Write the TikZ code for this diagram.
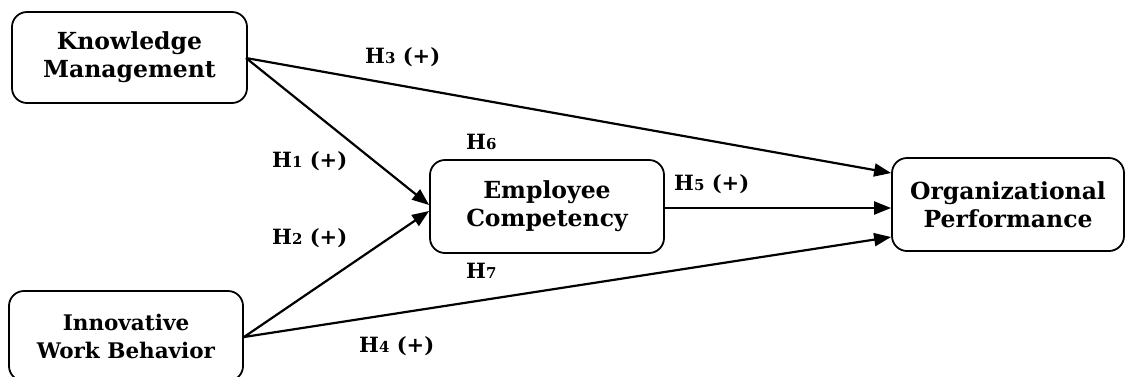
\documentclass[tikz,border=0pt]{standalone}
\usepackage{fontspec}
\setmainfont{DejaVu Serif}
\usetikzlibrary{arrows.meta}
\newcommand\hs[1]{{\fontsize{15}{15}\selectfont #1}}
\begin{document}
\begin{tikzpicture}[x=1pt,y=-1pt,
  box/.style={draw,line width=1.8pt,rounded corners=15pt,align=center,
    font=\fontsize{23.5}{28}\selectfont\bfseries,inner sep=0pt},
  arr/.style={line width=2.2pt,-{Triangle[length=17pt,width=13pt]}},
  lab/.style={font=\fontsize{21}{24}\selectfont\bfseries,inner sep=0pt}]
\useasboundingbox (0,0) rectangle (1126,376);
\node[box,minimum width=235pt,minimum height=91pt] (km) at (129.5,57.5) {Knowledge\\Management};
\node[box,minimum width=234pt,minimum height=90pt,font=\fontsize{21.5}{28}\selectfont\bfseries] (iwb) at (126,336) {Innovative\\Work Behavior};
\node[box,minimum width=234pt,minimum height=93pt] (ec) at (547,206.5) {Employee\\Competency};
\node[box,minimum width=232pt,minimum height=93pt] (op) at (1008,204.5) {Organizational\\Performance};
\coordinate (kmr) at (246,58);
\coordinate (iwbr) at (244,337);
\draw[arr] (kmr) -- (op.west |- 0,173);
\draw[arr] (kmr) -- (ec.west |- 0,205);
\draw[arr] (iwbr) -- (ec.west |- 0,211);
\draw[arr] (iwbr) -- (op.west |- 0,237);
\draw[arr] (ec.east |- 0,208) -- (op.west |- 0,208);
\node[lab,anchor=west] (h3) at (365,57) {H\hs{3} (+)};
\node[lab,anchor=west] (h1) at (272,161) {H\hs{1} (+)};
\node[lab,anchor=west] (h6) at (466,142) {H\hs{6}};
\node[lab,anchor=west] (h5) at (674,184) {H\hs{5} (+)};
\node[lab,anchor=west] (h2) at (272,238) {H\hs{2} (+)};
\node[lab,anchor=west] (h7) at (466,271) {H\hs{7}};
\node[lab,anchor=west] (h4) at (359,346) {H\hs{4} (+)};
\end{tikzpicture}
\end{document}
